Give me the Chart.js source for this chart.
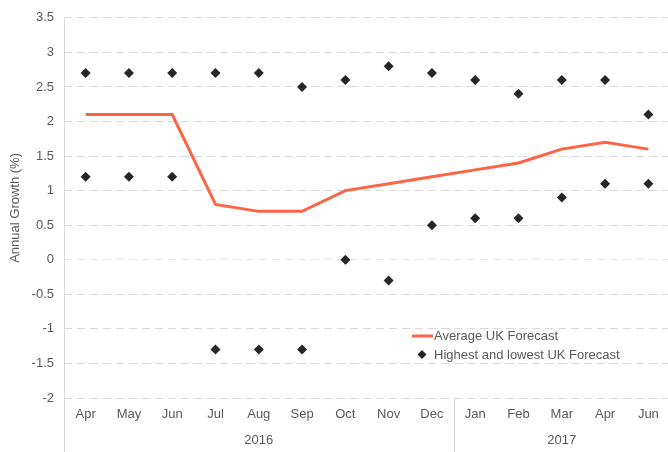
<!DOCTYPE html>
<html>
<head>
<meta charset="utf-8">
<script src="https://cdn.jsdelivr.net/npm/chart.js@4"></script>
<style>
  body { margin: 0; background: #fff; overflow: hidden; }
  #wrap { width: 668px; height: 452px; overflow: hidden; }
</style>
</head>
<body>
<div id="wrap"><canvas id="chart" width="675" height="452"></canvas></div>
<script>
const months = ['Apr', 'May', 'Jun', 'Jul', 'Aug', 'Sep', 'Oct', 'Nov', 'Dec', 'Jan', 'Feb', 'Mar', 'Apr', 'Jun'];
const years = ['2016', '2017'];
const yearSpans = [9, 5];
const average = [2.1, 2.1, 2.1, 0.8, 0.7, 0.7, 1.0, 1.1, 1.2, 1.3, 1.4, 1.6, 1.7, 1.6];
const highest = [2.7, 2.7, 2.7, 2.7, 2.7, 2.5, 2.6, 2.8, 2.7, 2.6, 2.4, 2.6, 2.6, 2.1];
const lowest = [1.2, 1.2, 1.2, -1.3, -1.3, -1.3, 0, -0.3, 0.5, 0.6, 0.6, 0.9, 1.1, 1.1];

const textColor = '#595959';
const gridColor = '#d9d9d9';
const lineColor = '#fd6446';
const dotColor = '#262626';
const font = 'Liberation Sans, Arial, sans-serif';

// year row, separators and legend
const extras = {
    id: 'extras',
    afterDraw(chart) {
        const c = chart.ctx;
        const x = chart.scales.x;
        const area = chart.chartArea;
        const h = chart.height;
        c.save();
        c.strokeStyle = gridColor;
        c.lineWidth = 1;
        c.beginPath();
        c.moveTo(area.left + 0.5, area.top);
        c.lineTo(area.left + 0.5, h);
        c.stroke();

        c.font = '13px ' + font;
        c.fillStyle = textColor;
        c.textAlign = 'center';
        c.textBaseline = 'middle';
        let start = 0;
        yearSpans.forEach((n, i) => {
            const x0 = start === 0 ? area.left : (x.getPixelForValue(start - 1) + x.getPixelForValue(start)) / 2;
            const end = start + n;
            const x1 = end >= months.length ? area.right : (x.getPixelForValue(end - 1) + x.getPixelForValue(end)) / 2;
            c.fillText(years[i], (x0 + x1) / 2, h - 12);
            if (end < months.length) {
                c.beginPath();
                c.moveTo(Math.round(x1) + 0.5, area.bottom);
                c.lineTo(Math.round(x1) + 0.5, h);
                c.stroke();
            }
            start = end;
        });

        // legend
        c.textAlign = 'left';
        c.strokeStyle = lineColor;
        c.lineWidth = 3;
        c.beginPath();
        c.moveTo(412, 336);
        c.lineTo(433, 336);
        c.stroke();
        c.fillText('Average UK Forecast', 434, 336);
        c.fillStyle = dotColor;
        c.beginPath();
        c.moveTo(422, 350);
        c.lineTo(426.5, 354.5);
        c.lineTo(422, 359);
        c.lineTo(417.5, 354.5);
        c.closePath();
        c.fill();
        c.fillStyle = textColor;
        c.fillText('Highest and lowest UK Forecast', 434, 355);
        c.restore();
    }
};

const ctx = document.getElementById('chart').getContext('2d');

new Chart(ctx, {
    type: 'line',
    data: {
        labels: months,
        datasets: [
            {
                label: 'Average UK Forecast',
                data: average,
                borderColor: lineColor,
                borderWidth: 3,
                pointRadius: 0,
                tension: 0,
                fill: false
            },
            {
                label: 'Highest and lowest UK Forecast',
                data: highest,
                showLine: false,
                pointStyle: 'rectRot',
                pointRadius: 5,
                backgroundColor: dotColor,
                borderColor: dotColor,
                borderWidth: 0
            },
            {
                label: 'Lowest',
                data: lowest,
                showLine: false,
                pointStyle: 'rectRot',
                pointRadius: 5,
                backgroundColor: dotColor,
                borderColor: dotColor,
                borderWidth: 0
            }
        ]
    },
    options: {
        responsive: false,
        animation: false,
        layout: {
            padding: { top: 6, right: 0, left: 0, bottom: 0 }
        },
        plugins: {
            legend: { display: false },
            tooltip: { enabled: false }
        },
        scales: {
            x: {
                offset: true,
                grid: { display: false, offset: true },
                border: { display: false },
                ticks: {
                    color: textColor,
                    font: { family: font, size: 13 },
                    padding: 1,
                    maxRotation: 0,
                    autoSkip: false
                },
                afterFit(scale) { scale.height = 54; }
            },
            y: {
                min: -2,
                max: 3.5,
                ticks: {
                    stepSize: 0.5,
                    color: textColor,
                    font: { family: font, size: 13 },
                    padding: 10,
                    callback: v => String(v)
                },
                grid: {
                    color: ctx2 => ctx2.tick && ctx2.tick.value === 0 ? '#e6e6e6' : gridColor,
                    drawTicks: false
                },
                border: { display: false, dash: [8, 5] },
                title: {
                    display: true,
                    text: 'Annual Growth (%)',
                    color: textColor,
                    font: { family: font, size: 13 },
                    padding: { top: 8, bottom: 0 }
                },
                afterFit(scale) { scale.width = 64; }
            }
        }
    },
    plugins: [extras]
});
</script>
</body>
</html>
